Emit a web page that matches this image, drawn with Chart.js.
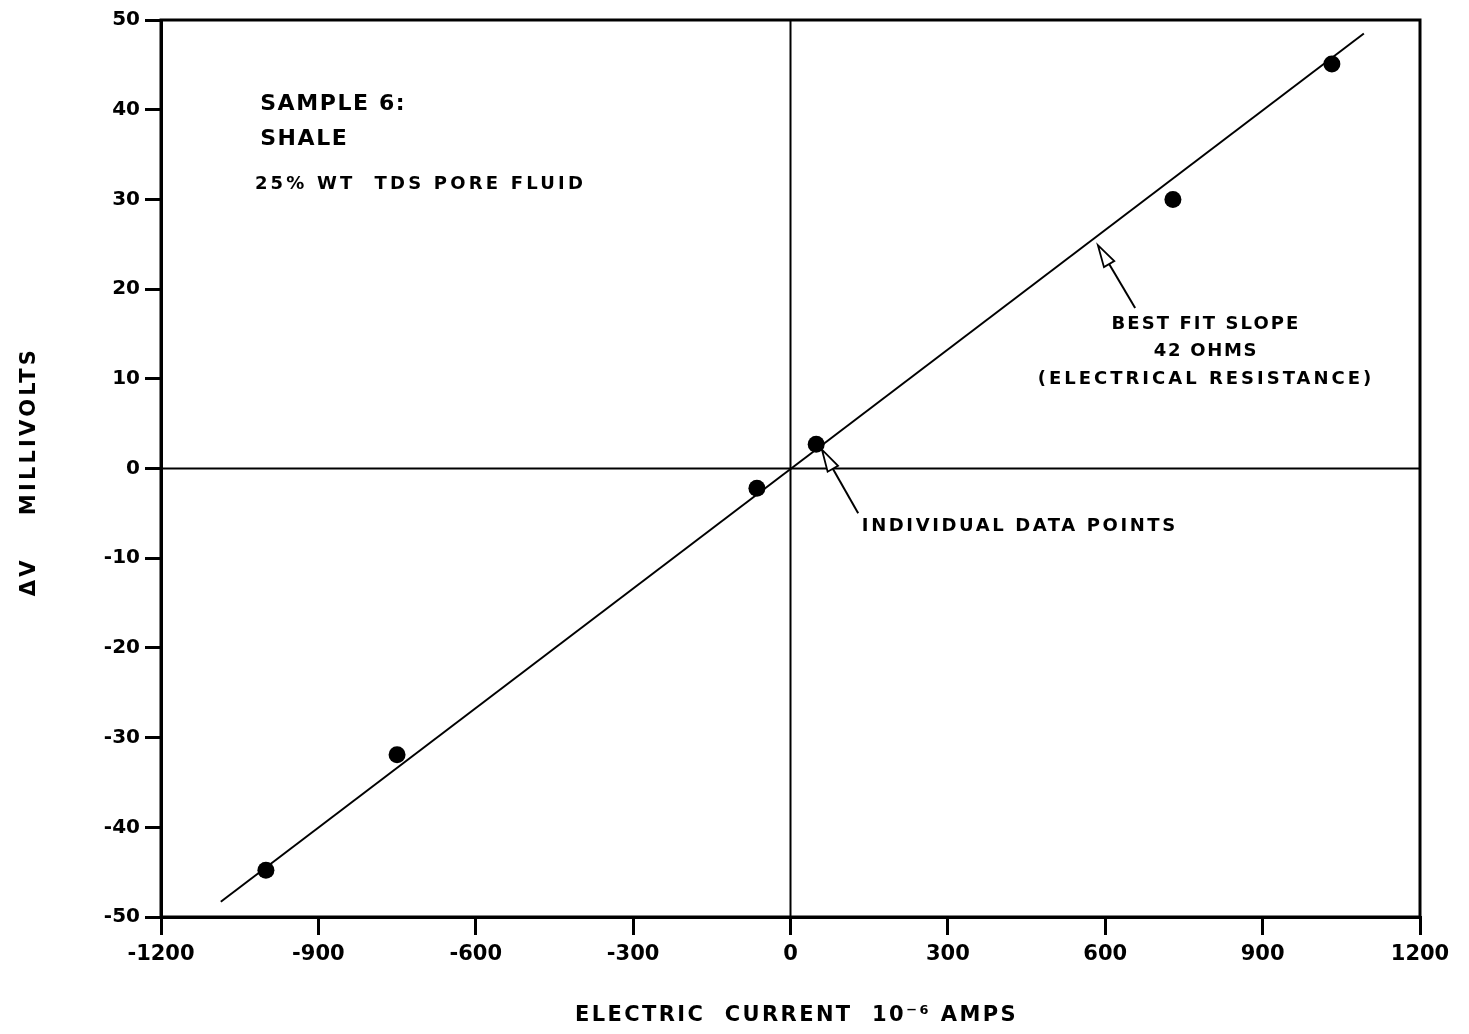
<!DOCTYPE html>
<html>
<head>
<meta charset="utf-8">
<script src="https://cdn.jsdelivr.net/npm/chart.js@4"></script>
<style>
  html, body { margin: 0; padding: 0; background: #fff; }
  #wrap { width: 1469px; height: 1034px; }
</style>
</head>
<body>
<div id="wrap"><canvas id="c" width="1469" height="1034"></canvas></div>
<script>
// Measured current (10^-6 A) and voltage drop (mV)
const currentUA = [-1000, -750, -64, 49, 729, 1032];
const deltaMV   = [-44.8, -31.9, -2.2, 2.7, 30.0, 45.1];

// Best-fit line end points
const fitX = [-1086, 1093];
const fitY = [-48.3, 48.5];

// Axis ticks
const xTicks = [-1200, -900, -600, -300, 0, 300, 600, 900, 1200];
const yTicks = [50, 40, 30, 20, 10, 0, -10, -20, -30, -40, -50];

// Axis titles
const xTitle = 'ELECTRIC  CURRENT  10\u207B\u2076 AMPS';
const yTitle = '\u0394V    MILLIVOLTS';

// Notes on the plot, placed in data coordinates
const notes = [
  { text: 'SAMPLE 6:', x: -1011, y: 40.6, size: 22, align: 'left', spacing: 1.6 },
  { text: 'SHALE', x: -1011, y: 36.7, size: 22, align: 'left', spacing: 1.6 },
  { text: '25% WT  TDS PORE FLUID', x: -1021, y: 31.7, size: 18, align: 'left', spacing: 3.2 },
  { text: 'BEST FIT SLOPE', x: 792, y: 16.1, size: 18, align: 'center', spacing: 2.1 },
  { text: '42 OHMS', x: 792, y: 13.1, size: 18, align: 'center', spacing: 1.7 },
  { text: '(ELECTRICAL RESISTANCE)', x: 792, y: 9.9, size: 18, align: 'center', spacing: 3.0 },
  { text: 'INDIVIDUAL DATA POINTS', x: 136, y: -6.5, size: 18, align: 'left', spacing: 2.6 }
];
// Pointer arrows: tail -> tip
const arrows = [
  { fromX: 657, fromY: 17.9, toX: 586, toY: 24.9 },
  { fromX: 129, fromY: -5.0, toX: 60, toY: 2.1 }
];

const FONT = '"DejaVu Sans", sans-serif';

const decor = {
  id: 'decor',
  beforeDatasetsDraw(chart) {
    const { ctx, chartArea: a, scales: { x, y } } = chart;
    ctx.save();
    ctx.strokeStyle = '#000';
    // zero axes
    ctx.lineWidth = 2;
    ctx.beginPath();
    const x0 = x.getPixelForValue(0), y0 = y.getPixelForValue(0);
    ctx.moveTo(x0, a.top); ctx.lineTo(x0, a.bottom);
    ctx.moveTo(a.left, y0); ctx.lineTo(a.right, y0);
    ctx.stroke();
    // frame
    ctx.lineWidth = 3;
    ctx.strokeRect(a.left, a.top, a.right - a.left, a.bottom - a.top);
    ctx.restore();
  },
  afterDatasetsDraw(chart) {
    const { ctx, chartArea: a, scales: { x, y } } = chart;
    ctx.save();
    ctx.fillStyle = '#000';
    ctx.textBaseline = 'middle';
    notes.forEach(n => {
      ctx.font = `600 ${n.size}px ${FONT}`;
      ctx.letterSpacing = n.spacing + 'px';
      ctx.textAlign = n.align;
      ctx.fillText(n.text, x.getPixelForValue(n.x), y.getPixelForValue(n.y));
    });

    // axis titles
    ctx.font = `600 21px ${FONT}`;
    ctx.letterSpacing = '2.4px';
    ctx.textAlign = 'center';
    ctx.fillText(xTitle, (a.left + a.right) / 2 + 6, 1016);
    ctx.save();
    ctx.translate(30, (a.top + a.bottom) / 2 + 3);
    ctx.rotate(-Math.PI / 2);
    ctx.letterSpacing = '3.2px';
    ctx.fillText(yTitle, 0, 0);
    ctx.restore();
    ctx.letterSpacing = '0px';

    arrows.forEach(ar => {
      const x1 = x.getPixelForValue(ar.fromX), y1 = y.getPixelForValue(ar.fromY);
      const x2 = x.getPixelForValue(ar.toX), y2 = y.getPixelForValue(ar.toY);
      const ang = Math.atan2(y2 - y1, x2 - x1);
      const len = 22, half = 6;
      const bx = x2 - len * Math.cos(ang), by = y2 - len * Math.sin(ang);
      ctx.strokeStyle = '#000';
      ctx.lineWidth = 2;
      ctx.beginPath();
      ctx.moveTo(x1, y1); ctx.lineTo(bx, by);
      ctx.stroke();
      ctx.beginPath();
      ctx.moveTo(x2, y2);
      ctx.lineTo(bx + half * Math.sin(ang), by - half * Math.cos(ang));
      ctx.lineTo(bx - half * Math.sin(ang), by + half * Math.cos(ang));
      ctx.closePath();
      ctx.fillStyle = '#fff';
      ctx.fill();
      ctx.lineWidth = 1.8;
      ctx.stroke();
    });
    ctx.restore();
  }
};

new Chart(document.getElementById('c'), {
  data: {
    datasets: [
      {
        type: 'line',
        data: fitX.map((v, i) => ({ x: v, y: fitY[i] })),
        borderColor: '#000',
        borderWidth: 2,
        pointRadius: 0,
        fill: false
      },
      {
        type: 'scatter',
        data: currentUA.map((v, i) => ({ x: v, y: deltaMV[i] })),
        backgroundColor: '#000',
        borderColor: '#000',
        pointRadius: 8.5,
        borderWidth: 0
      }
    ]
  },
  options: {
    responsive: false,
    animation: false,
    devicePixelRatio: 1,
    layout: { padding: { top: 20, right: 49, left: 0, bottom: 0 } },
    plugins: { legend: { display: false }, tooltip: { enabled: false } },
    scales: {
      x: {
        type: 'linear',
        min: -1200, max: 1200,
        afterBuildTicks: s => { s.ticks = xTicks.map(v => ({ value: v })); },
        afterFit: s => { s.height = 117; },
        border: { display: true, color: '#000', width: 3 },
        grid: { drawOnChartArea: false, drawTicks: true, tickLength: 18, color: '#000', lineWidth: 3 },
        ticks: {
          color: '#000', padding: 7, maxRotation: 0,
          font: { family: FONT, size: 21, weight: '600' },
          callback: v => String(v)
        },
        title: { display: false }
      },
      y: {
        type: 'linear',
        min: -50, max: 50,
        afterBuildTicks: s => { s.ticks = yTicks.map(v => ({ value: v })); },
        afterFit: s => { s.width = 161; },
        border: { display: true, color: '#000', width: 3 },
        grid: { drawOnChartArea: false, drawTicks: true, tickLength: 16, color: '#000', lineWidth: 3 },
        ticks: {
          color: '#000', padding: 5,
          font: { family: FONT, size: 20, weight: '600' },
          callback: v => String(v)
        },
        title: { display: false }
      }
    }
  },
  plugins: [decor]
});
</script>
</body>
</html>
